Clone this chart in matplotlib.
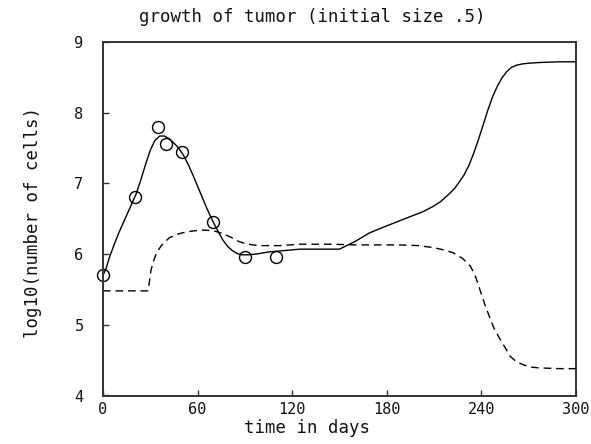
import matplotlib
matplotlib.use("Agg")
import matplotlib.pyplot as plt

# observed tumor sizes
obs_days = [0, 20, 35, 40, 50, 70, 90, 110]
obs_log_cells = [5.70, 6.81, 7.80, 7.56, 7.45, 6.45, 5.96, 5.96]

# fitted tumor growth curve
fit_days = [0, 2, 4, 7, 10, 14, 18, 21, 24, 27, 30, 33, 36, 39, 42, 45, 48, 51,
            54, 57, 60, 63, 66, 70, 73, 76, 79, 82, 85, 88, 92, 97, 105, 115,
            125, 135, 150, 160, 169, 180, 188, 196, 203, 209, 214, 220, 223, 226,
            229, 232, 235, 238, 241, 244, 247, 250, 253, 256, 259, 262, 266, 270,
            277, 290, 300]
fit_log_cells = [5.70, 5.80, 5.95, 6.13, 6.30, 6.50, 6.70, 6.85, 7.05, 7.27, 7.47,
                 7.61, 7.67, 7.67, 7.63, 7.57, 7.50, 7.40, 7.27, 7.12, 6.96, 6.80,
                 6.64, 6.45, 6.32, 6.20, 6.11, 6.05, 6.01, 5.99, 5.99, 6.00, 6.03,
                 6.05, 6.07, 6.07, 6.07, 6.18, 6.30, 6.40, 6.47, 6.54, 6.60, 6.67,
                 6.74, 6.86, 6.93, 7.02, 7.12, 7.25, 7.42, 7.61, 7.82, 8.03, 8.22,
                 8.37, 8.49, 8.58, 8.64, 8.67, 8.69, 8.70, 8.71, 8.72, 8.72]

# second (dashed) curve
alt_days = [0, 28.5, 29.5, 30.5, 32, 34, 37, 42, 47, 52, 58, 64, 70, 76, 81, 86,
            90, 95, 100, 112, 125, 144, 160, 188, 200, 210, 216, 222, 228, 233,
            236, 239, 242, 245, 248, 252, 255, 258, 262, 267, 272, 277, 290, 300]
alt_log_cells = [5.48, 5.48, 5.62, 5.78, 5.90, 6.02, 6.12, 6.23, 6.28, 6.31, 6.33,
                 6.34, 6.33, 6.29, 6.24, 6.18, 6.15, 6.13, 6.12, 6.12, 6.14, 6.14,
                 6.13, 6.13, 6.12, 6.09, 6.06, 6.02, 5.94, 5.83, 5.70, 5.50, 5.30,
                 5.12, 4.95, 4.79, 4.68, 4.56, 4.48, 4.43, 4.40, 4.39, 4.38, 4.38]

x_ticks = [0, 60, 120, 180, 240, 300]
y_ticks = [4, 5, 6, 7, 8, 9]

plt.rcParams['font.family'] = ['DejaVu Sans Mono']
FS = 12.5

fig = plt.figure(figsize=(5.91, 4.44), dpi=100)
ax = fig.add_axes([103 / 591, 1 - 395.5 / 444, 473 / 591, 353.5 / 444])

ax.plot(fit_days, fit_log_cells, color='black', lw=1.0)
dash_line, = ax.plot(alt_days, alt_log_cells, color='black', lw=1.0)
dash_line.set_dashes([5.5, 3.5])
ax.plot(obs_days, obs_log_cells, linestyle='none', marker='o', markersize=8.6,
        markerfacecolor='none', markeredgecolor='black', markeredgewidth=1.0,
        clip_on=False)

ax.set_xlim(0, 300)
ax.set_ylim(4, 9)
ax.set_xticks(x_ticks)
ax.set_yticks(y_ticks)
ax.set_xticklabels([str(v) for v in x_ticks])
ax.set_yticklabels([str(v) for v in y_ticks])
ax.tick_params(direction='in', length=4.5, width=1.0, labelsize=FS - 1.5,
               color='#333333', labelcolor='#111111')
ax.tick_params(axis='x', pad=5)
ax.tick_params(axis='y', pad=14)
for s in ax.spines.values():
    s.set_linewidth(1.4)
    s.set_color('#333333')

fig.text(312 / 591, 1 - 17 / 444, 'growth of tumor (initial size .5)',
         ha='center', va='center', fontsize=FS, color='#111111')
fig.text(307 / 591, 1 - 428 / 444, 'time in days',
         ha='center', va='center', fontsize=FS, color='#111111')
fig.text(33 / 591, 1 - 223 / 444, 'log10(number of cells)',
         ha='center', va='center', rotation=90, fontsize=FS, color='#111111')

fig.savefig('out.png', dpi=100)
